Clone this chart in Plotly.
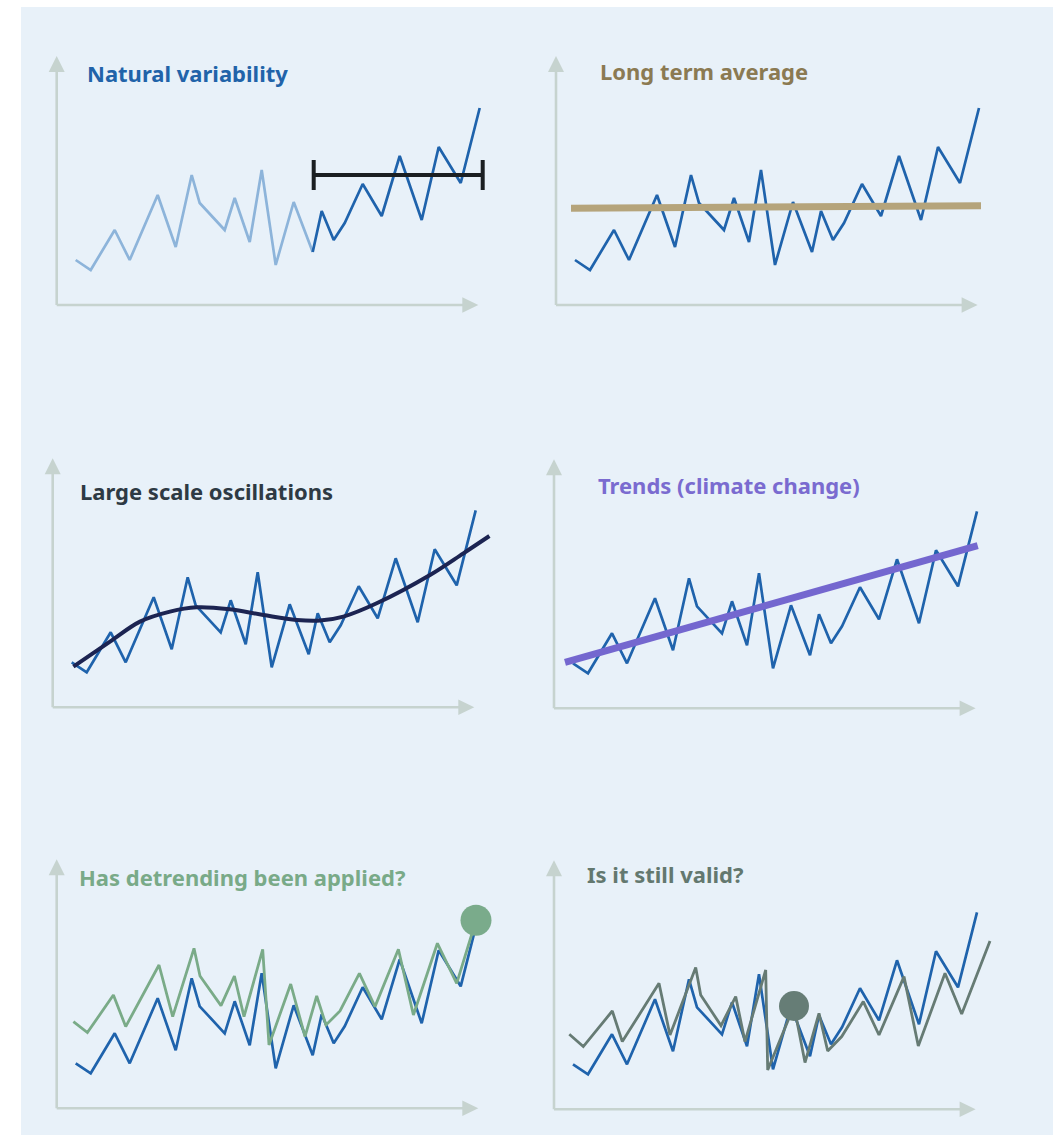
import plotly.graph_objects as go

# page body margin is removed via post_script so the figure fills the window exactly
OFF = 0
PAGE_W, PAGE_H = 1053, 1135
W, H = PAGE_W - OFF, PAGE_H - OFF

# ---------------- data (relative units, origin at each panel's axis corner) ----------------
base_x = [19, 34, 58, 73, 101, 119, 135, 143, 168, 178, 193, 205, 219, 237, 256,
          265, 277, 288, 306, 325, 343, 365, 382, 404, 423]
base_y = [45, 35, 75, 45, 110, 58, 130, 102, 75, 107, 63, 135, 40, 103, 53,
          94, 65, 82, 121, 89, 149, 85, 158, 122, 197]
split_idx = 14  # light-blue "past" part ends here in panel 1

window_x = [257, 426]
window_y = 130

average_x = [15, 425]
average_y = [96.7, 99.3]

osc_x = [20.7, 57.3, 87.3, 117.3, 144, 177.3, 210.7, 244, 267.3, 290.7, 324, 377.3, 410.7, 436.7]
osc_y = [40.7, 65.7, 85.7, 95.7, 100, 98, 92.3, 87.3, 86.7, 90.7, 104, 132.3, 154, 171.3]

trend_x = [11, 423.7]
trend_y = [46, 162.7]

green_x = [16.7, 30.7, 56.7, 69, 102.3, 116, 137.3, 143.3, 164.3, 177.7, 187.3, 206, 212.3,
           234, 248.3, 260, 269.3, 283.3, 302.7, 318.3, 341.7, 356.7, 380.7, 400, 419.3]
green_y = [86.7, 75.7, 113.3, 81.7, 143.3, 91.7, 160, 132.3, 102.7, 132.3, 91.7, 159, 63.3,
           124.3, 71.7, 112.3, 83.3, 97.3, 135, 101.7, 159, 93.3, 165, 125, 188]

grey_x = [15.3, 29.3, 58.3, 68.3, 105, 116, 141.7, 146.7, 167, 181.7, 191, 211.7, 213.7,
          240, 251, 265, 273.7, 287.7, 309.3, 325, 350, 364.3, 391, 407.7, 436]
grey_y = [75, 62.7, 98.3, 67.7, 126, 74.3, 141.7, 114.3, 83.7, 112.7, 67.7, 139.3, 39.3,
          103.3, 46.7, 96, 58.3, 72.7, 107.7, 74.3, 132.7, 63.3, 136, 95.3, 168.3]
grey_dot_idx = 13

titles = ["Natural variability", "Long term average", "Large scale oscillations",
          "Trends (climate change)", "Has detrending been applied?", "Is it still valid?"]

# ---------------- styling / layout ----------------
BLUE = "#1f63ac"
LIGHT_BLUE = "#8db4da"
AXIS_C = "#c6d3cf"
BG = "#e8f1f9"
FONT = "Noto Sans"
title_colors = ["#2163a9", "#8b7a52", "#2e3a44", "#7a6bd0", "#79aa88", "#63786f"]
title_pos = [(86.7, 80.7), (600, 79), (80, 499.3), (598.3, 493.3), (79.3, 885), (587.3, 881.7)]
origins = [(56.7, 305), (556, 305), (52.7, 707.3), (554, 708.3), (56.7, 1108.3), (554, 1109.3)]
AX_LEN, AY_LEN = 421.6, 249
X0, X1, Y0, Y1 = -25, 465, -25, 265


def px(xp):
    return (xp - OFF) / W


def py(yp):
    return 1 - (yp - OFF) / H


fig = go.Figure()
shapes = [dict(type="rect", xref="paper", yref="paper", x0=px(21), x1=1, y0=0, y1=min(1, py(7)),
               fillcolor=BG, line=dict(width=0), layer="below")]
annotations = []

for i, (ox, oy) in enumerate(origins):
    n = "" if i == 0 else str(i + 1)
    xa, ya = "x" + n, "y" + n
    fig.update_layout(**{
        "xaxis" + n: dict(domain=[px(ox + X0), px(ox + X1)], range=[X0, X1], visible=False,
                          anchor=ya, fixedrange=True),
        "yaxis" + n: dict(domain=[py(oy - Y0), py(oy - Y1)], range=[Y0, Y1],
                          visible=False, anchor=xa, fixedrange=True),
    })
    # axes with arrowheads
    shapes.append(dict(type="line", xref=xa, yref=ya, x0=0, y0=0, x1=AX_LEN - 14, y1=0,
                       line=dict(color=AXIS_C, width=2.6), layer="below"))
    shapes.append(dict(type="line", xref=xa, yref=ya, x0=0, y0=0, x1=0, y1=AY_LEN - 14,
                       line=dict(color=AXIS_C, width=2.6), layer="below"))
    shapes.append(dict(type="path", xref=xa, yref=ya,
                       path=f"M {AX_LEN-16},-7.7 L {AX_LEN},0 L {AX_LEN-16},7.7 Z",
                       fillcolor=AXIS_C, line=dict(width=0), layer="below"))
    shapes.append(dict(type="path", xref=xa, yref=ya,
                       path=f"M -8,{AY_LEN-16} L 0,{AY_LEN} L 8,{AY_LEN-16} Z",
                       fillcolor=AXIS_C, line=dict(width=0), layer="below"))
    tx, ty = title_pos[i]
    annotations.append(dict(xref="paper", yref="paper", x=px(tx - 2), y=py(ty - 8),
                            xanchor="left", yanchor="middle", showarrow=False, text=titles[i],
                            font=dict(family=FONT, size=22, color=title_colors[i], weight="bold")))


def line(x, y, color, width, xa, ya, shape="linear"):
    fig.add_trace(go.Scatter(x=x, y=y, mode="lines", xaxis=xa, yaxis=ya, cliponaxis=False,
                             line=dict(color=color, width=width, shape=shape),
                             hoverinfo="skip", showlegend=False))


# Panel 1
line(base_x[:split_idx + 1], base_y[:split_idx + 1], LIGHT_BLUE, 2.7, "x", "y")
line(base_x[split_idx:], base_y[split_idx:], BLUE, 2.7, "x", "y")
line(window_x, [window_y, window_y], "#1b1f22", 4, "x", "y")
for wx in window_x:
    line([wx, wx], [window_y - 15, window_y + 15], "#1b1f22", 4, "x", "y")

# Panel 2
line(base_x, base_y, BLUE, 2.7, "x2", "y2")
line(average_x, average_y, "#b5a47b", 7, "x2", "y2")

# Panel 3
line(base_x, base_y, BLUE, 2.7, "x3", "y3")
line(osc_x, osc_y, "#1c2452", 4, "x3", "y3", shape="spline")

# Panel 4
line(base_x, base_y, BLUE, 2.7, "x4", "y4")
line(trend_x, trend_y, "#7467cf", 7, "x4", "y4")

# Panel 5
line(base_x, base_y, BLUE, 2.7, "x5", "y5")
line(green_x, green_y, "#7aab88", 2.8, "x5", "y5")
fig.add_trace(go.Scatter(x=[green_x[-1]], y=[green_y[-1]], mode="markers", xaxis="x5", yaxis="y5",
                         cliponaxis=False, marker=dict(size=31, color="#7aab8b"),
                         hoverinfo="skip", showlegend=False))

# Panel 6
line(base_x, base_y, BLUE, 2.7, "x6", "y6")
line(grey_x, grey_y, "#667b74", 2.8, "x6", "y6")
fig.add_trace(go.Scatter(x=[grey_x[grey_dot_idx]], y=[grey_y[grey_dot_idx]], mode="markers",
                         xaxis="x6", yaxis="y6", cliponaxis=False,
                         marker=dict(size=30, color="#667d76"),
                         hoverinfo="skip", showlegend=False))

fig.update_layout(width=W, height=H, margin=dict(l=0, r=0, t=0, b=0),
                  paper_bgcolor="white", plot_bgcolor="rgba(0,0,0,0)",
                  shapes=shapes, annotations=annotations, showlegend=False)

fig.write_html("out.html", config={"displayModeBar": False},
               post_script="document.documentElement.style.overflow='hidden';"
                           "document.body.style.margin='0';document.body.style.overflow='hidden';")
